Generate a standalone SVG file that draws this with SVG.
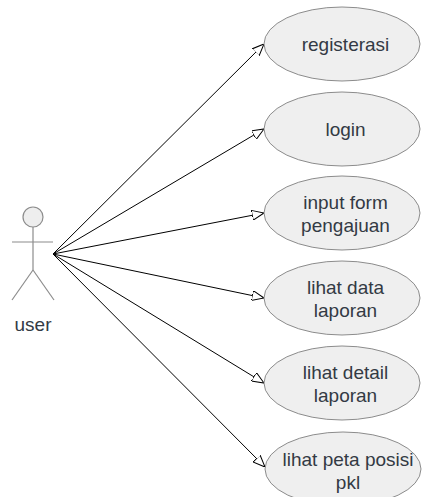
<svg xmlns="http://www.w3.org/2000/svg" width="422" height="497" viewBox="0 0 422 497">
  <style>
    .uc ellipse { fill: #efefef; stroke: #8c8c8c; stroke-width: 1; }
    .uc text, .actor text { font-family: "Liberation Sans", Arial, sans-serif; font-size: 19px; fill: #333a44; text-anchor: middle; }
    .actor line, .actor circle { stroke: #8c8c8c; stroke-width: 1.2; fill: none; }
    .actor circle { fill: #eeeeee; }
    .assoc line { stroke: #000; stroke-width: 1; marker-end: url(#open-tri); }
  </style>
  <defs>
    <marker id="open-tri" viewBox="0 0 12 10" refX="12" refY="5" markerWidth="12" markerHeight="10" markerUnits="userSpaceOnUse" orient="auto">
      <path d="M0,0 L12,5 L0,10 Z" fill="#fff" stroke="#000" stroke-width="1"/>
    </marker>
  </defs>
  <rect width="422" height="497" fill="#fff"/>

  <g id="actor-user" class="actor">
    <circle cx="33" cy="217" r="10"/>
    <line x1="33" y1="227" x2="33" y2="270"/>
    <line x1="12" y1="242" x2="53" y2="242"/>
    <line x1="33" y1="270" x2="12" y2="300"/>
    <line x1="33" y1="270" x2="54" y2="300"/>
    <text x="33" y="331">user</text>
  </g>

  <g id="connectors" class="assoc">
    <line x1="53" y1="254" x2="264" y2="44"/>
    <line x1="53" y1="254" x2="264" y2="129"/>
    <line x1="53" y1="254" x2="264" y2="213"/>
    <line x1="53" y1="254" x2="264" y2="298"/>
    <line x1="53" y1="254" x2="264" y2="383"/>
    <line x1="53" y1="254" x2="265" y2="467"/>
  </g>

  <g id="uc-registerasi" class="uc">
    <ellipse cx="342" cy="44" rx="78" ry="37"/>
    <text x="345.5" y="51">registerasi</text>
  </g>
  <g id="uc-login" class="uc">
    <ellipse cx="342" cy="129" rx="78" ry="37"/>
    <text x="345.5" y="136">login</text>
  </g>
  <g id="uc-input-form" class="uc">
    <ellipse cx="342" cy="213" rx="78" ry="37"/>
    <text x="345.5" y="209">input form</text>
    <text x="345.5" y="232">pengajuan</text>
  </g>
  <g id="uc-lihat-data" class="uc">
    <ellipse cx="342" cy="298" rx="78" ry="37"/>
    <text x="345.5" y="294">lihat data</text>
    <text x="345.5" y="317">laporan</text>
  </g>
  <g id="uc-lihat-detail" class="uc">
    <ellipse cx="342" cy="383" rx="78" ry="37"/>
    <text x="345.5" y="379">lihat detail</text>
    <text x="345.5" y="402">laporan</text>
  </g>
  <g id="uc-lihat-peta" class="uc">
    <ellipse cx="343" cy="469" rx="78" ry="37"/>
    <text x="348" y="465.5">lihat peta posisi</text>
    <text x="348" y="489">pkl</text>
  </g>
</svg>
